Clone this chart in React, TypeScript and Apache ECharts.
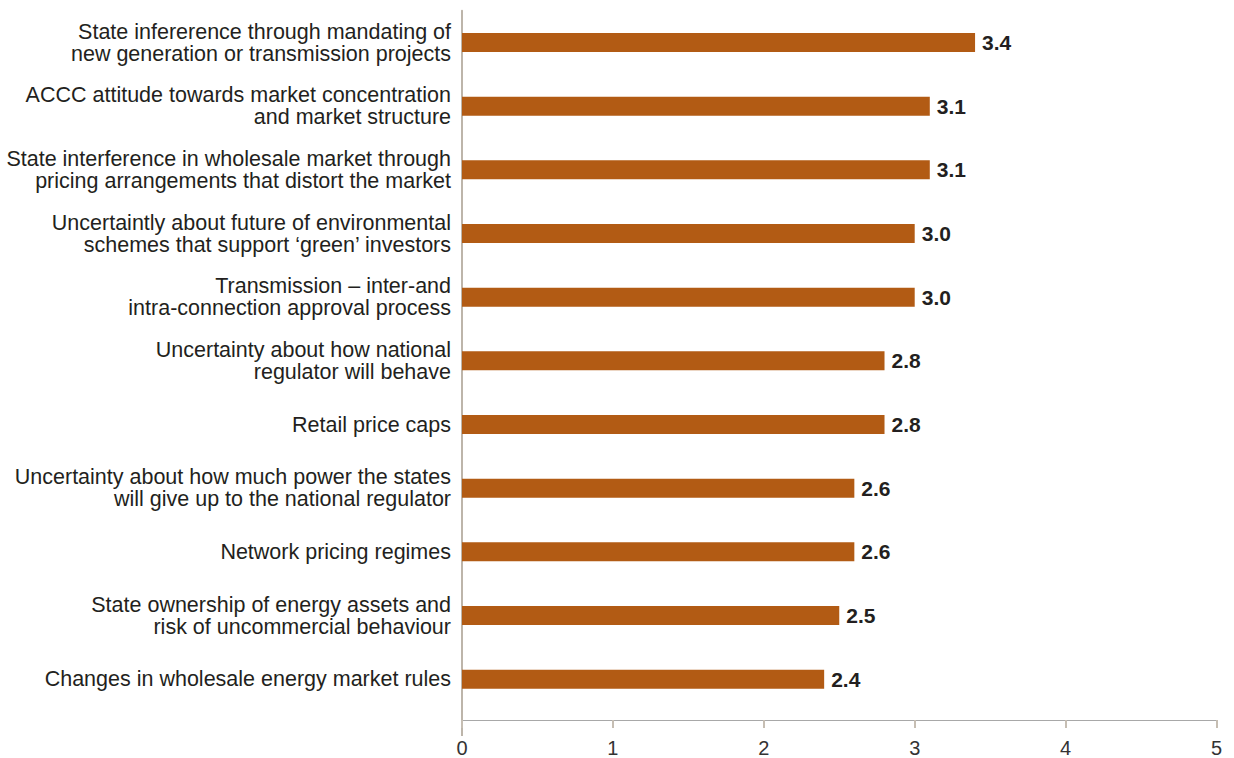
import React, { useEffect, useRef } from "react";
import * as echarts from "echarts";

const categories: string[] = [
  "State infererence through mandating of\nnew generation or transmission projects",
  "ACCC attitude towards market concentration\nand market structure",
  "State interference in wholesale market through\npricing arrangements that distort the market",
  "Uncertaintly about future of environmental\nschemes that support ‘green’ investors",
  "Transmission – inter-and\nintra-connection approval process",
  "Uncertainty about how national\nregulator will behave",
  "Retail price caps",
  "Uncertainty about how much power the states\nwill give up to the national regulator",
  "Network pricing regimes",
  "State ownership of energy assets and\nrisk of uncommercial behaviour",
  "Changes in wholesale energy market rules",
];

const values: number[] = [3.4, 3.1, 3.1, 3.0, 3.0, 2.8, 2.8, 2.6, 2.6, 2.5, 2.4];

const xMin = 0;
const xMax = 5;
const xInterval = 1;

const FONT = "'Liberation Sans', Arial, Helvetica, sans-serif";

export default function App() {
  const ref = useRef<HTMLDivElement>(null);

  useEffect(() => {
    if (!ref.current) return;
    const chart = echarts.init(ref.current, undefined, { renderer: "svg" });
    chart.setOption({
      animation: false,
      backgroundColor: "#ffffff",
      textStyle: { fontFamily: FONT },
      grid: { left: 462, right: 17.5, top: 10.7, bottom: 47, containLabel: false },
      xAxis: {
        type: "value",
        min: xMin,
        max: xMax,
        interval: xInterval,
        offset: 9,
        axisLine: { show: true, lineStyle: { color: "#A8A8A8", width: 1.2 } },
        axisTick: { show: true, length: 8, lineStyle: { color: "#C6BEB3", width: 2 } },
        axisLabel: { color: "#333333", fontSize: 20, fontFamily: FONT, margin: 18 },
        splitLine: { show: false },
      },
      yAxis: {
        type: "category",
        data: categories,
        inverse: true,
        axisLine: { show: true, lineStyle: { color: "#BDB5AA", width: 2 } },
        axisTick: { show: false },
        axisLabel: {
          color: "#231F20",
          fontSize: 21.5,
          lineHeight: 22,
          fontFamily: FONT,
          margin: 11,
          align: "right",
        },
        splitLine: { show: false },
      },
      graphic: [
        {
          type: "line",
          shape: { x1: 462, y1: 711, x2: 462, y2: 736 },
          style: { stroke: "#BDB5AA", lineWidth: 2 },
          silent: true,
        },
      ],
      series: [
        {
          type: "bar",
          data: values,
          barWidth: 19,
          itemStyle: { color: "#B25B14" },
          label: {
            show: true,
            position: "right",
            distance: 7,
            color: "#231F20",
            fontSize: 21,
            fontWeight: "bold",
            fontFamily: FONT,
            formatter: (p: any) => Number(p.value).toFixed(1),
          },
        },
      ],
    });
    return () => chart.dispose();
  }, []);

  return (
    <div
      ref={ref}
      style={{ position: "fixed", left: 0, top: 0, width: 1234, height: 758 }}
    />
  );
}
